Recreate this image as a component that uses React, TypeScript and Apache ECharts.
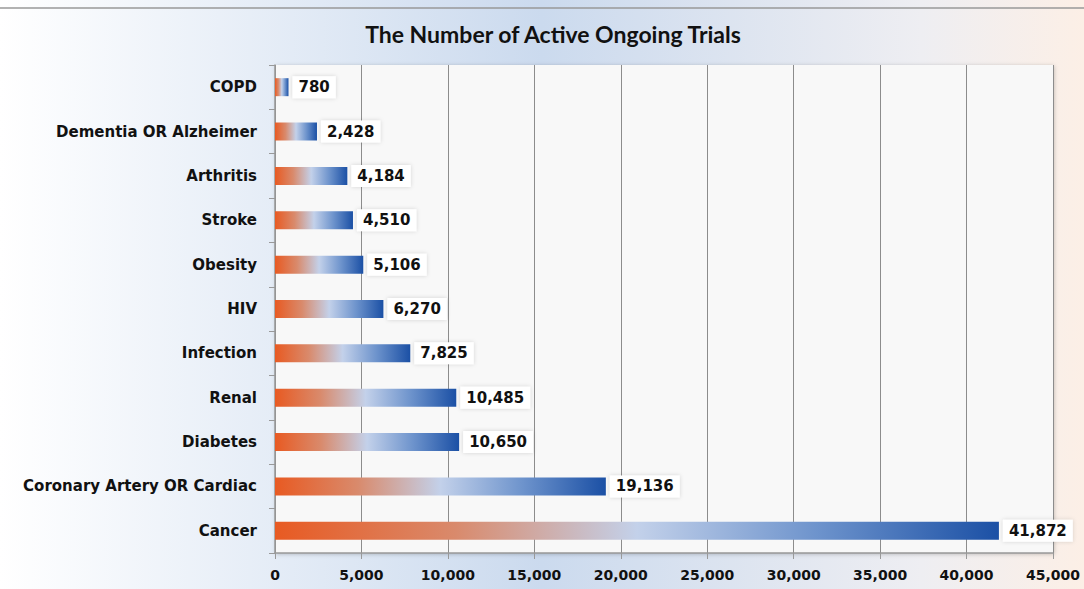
import React, { useEffect, useRef } from "react";
import * as echarts from "echarts";

const categories = [
  "COPD",
  "Dementia OR Alzheimer",
  "Arthritis",
  "Stroke",
  "Obesity",
  "HIV",
  "Infection",
  "Renal",
  "Diabetes",
  "Coronary Artery OR Cardiac",
  "Cancer",
];
const values = [780, 2428, 4184, 4510, 5106, 6270, 7825, 10485, 10650, 19136, 41872];
const title = "The Number of Active Ongoing Trials";

export default function App() {
  const ref = useRef<HTMLDivElement>(null);
  useEffect(() => {
    document.body.style.margin = "0";
    const chart = echarts.init(ref.current!, null, { renderer: "svg" });
    const barGrad = new echarts.graphic.LinearGradient(0, 0, 1, 0, [
      { offset: 0, color: "#e85a22" },
      { offset: 0.25, color: "#d98a6c" },
      { offset: 0.5, color: "#c3d1ea" },
      { offset: 0.75, color: "#6d93cc" },
      { offset: 1, color: "#1b50a5" },
    ]);
    chart.setOption({
      animation: false,
      backgroundColor: new echarts.graphic.LinearGradient(0, 0, 1, 0, [
        { offset: 0, color: "#ffffff" },
        { offset: 0.5, color: "#cbdaee" },
        { offset: 0.85, color: "#eeeef2" },
        { offset: 1, color: "#fcefe6" },
      ]),
      title: {
        text: title,
        left: 548,
        top: 17,
        textAlign: "center",
        textStyle: {
          fontFamily: "Lato",
          fontWeight: "bold",
          fontSize: 23,
          color: "#111",
        },
      },
      graphic: [
        {
          type: "line",
          shape: { x1: 0, y1: 8, x2: 1084, y2: 8 },
          style: { stroke: "#999", lineWidth: 1.5 },
        },
      ],
      grid: {
        left: 275,
        right: 31,
        top: 65,
        bottom: 36,
        show: true,
        backgroundColor: "#f8f8f8",
        borderWidth: 0,
        shadowColor: "rgba(0,0,0,0.25)",
        shadowBlur: 4,
        shadowOffsetX: 1,
        shadowOffsetY: 1,
      },
      xAxis: {
        type: "value",
        min: 0,
        max: 45000,
        interval: 5000,
        axisLine: { show: true, lineStyle: { color: "#999", width: 1.5 } },
        axisTick: { show: true, length: 6, lineStyle: { color: "#999" } },
        splitLine: { show: true, lineStyle: { color: "#8c8c8c", width: 1 } },
        axisLabel: {
          fontFamily: "DejaVu Sans",
          fontWeight: "bold",
          fontSize: 14,
          color: "#111",
          margin: 15,
          formatter: (v: number) => v.toLocaleString("en-US"),
        },
      },
      yAxis: {
        type: "category",
        data: categories,
        inverse: true,
        axisLine: { show: true, lineStyle: { color: "#999", width: 1.5 } },
        axisTick: { show: true, length: 6, lineStyle: { color: "#999" } },
        splitLine: { show: false },
        axisLabel: {
          fontFamily: "DejaVu Sans",
          fontWeight: "bold",
          fontSize: 15,
          color: "#111",
          margin: 18,
        },
      },
      series: [
        {
          type: "bar",
          data: values,
          barWidth: 18,
          itemStyle: { color: barGrad },
          label: {
            show: true,
            position: "right",
            distance: 4,
            fontFamily: "DejaVu Sans",
            fontWeight: "bold",
            fontSize: 15,
            color: "#111",
            backgroundColor: "#ffffff",
            padding: [4, 6, 3, 6],
            shadowColor: "rgba(0,0,0,0.15)",
            shadowBlur: 4,
            formatter: (p: any) => Number(p.value).toLocaleString("en-US"),
          },
        },
      ],
    });
    return () => chart.dispose();
  }, []);
  return <div ref={ref} style={{ width: 1084, height: 589 }} />;
}
